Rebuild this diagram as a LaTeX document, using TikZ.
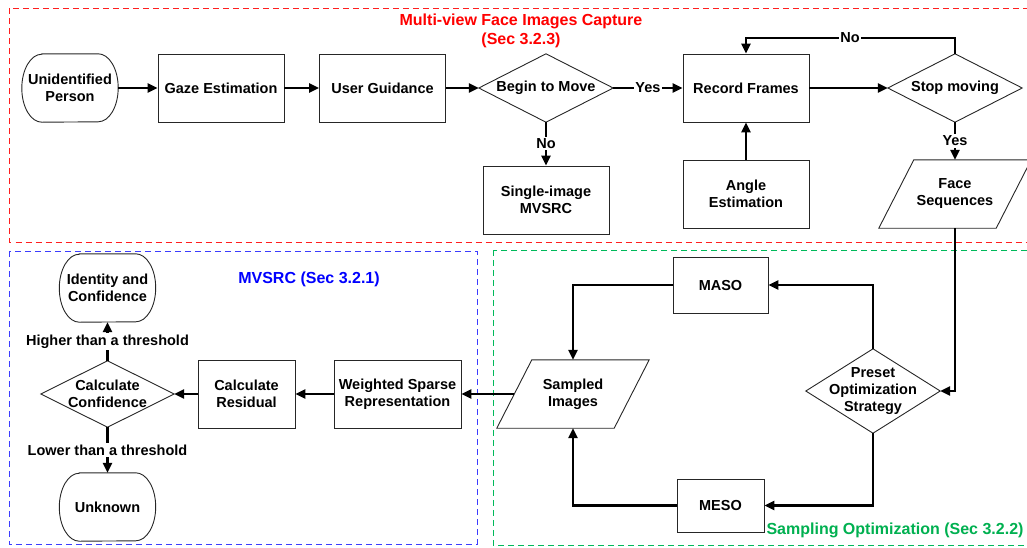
\documentclass[tikz,border=0pt]{standalone}
\usepackage{fontspec}
\setmainfont{Liberation Sans}
\usetikzlibrary{arrows.meta}
\definecolor{framered}{RGB}{255,30,30}
\definecolor{frameblue}{RGB}{60,60,255}
\definecolor{framegreen}{RGB}{0,185,90}
\definecolor{titlered}{RGB}{255,0,0}
\definecolor{titleblue}{RGB}{0,0,255}
\definecolor{titlegreen}{RGB}{0,176,80}
\newcommand{\drawterm}[1]{\draw[shapeline] ([xshift=20pt]#1.north west) -- ([xshift=-20pt]#1.north east) arc[start angle=90,end angle=-90,x radius=20pt,y radius=34pt] -- ([xshift=20pt]#1.south west) arc[start angle=270,end angle=90,x radius=20pt,y radius=34pt] -- cycle;}
\newcommand{\drawdia}[1]{\draw[shapeline] (#1.north) -- (#1.east) -- (#1.south) -- (#1.west) -- cycle;}
\newcommand{\drawpara}[1]{\draw[shapeline] ([xshift=-17.5pt]#1.south west) -- ([xshift=17.5pt]#1.north west) -- ([xshift=17.5pt]#1.north east) -- ([xshift=-17.5pt]#1.south east) -- cycle;}
\begin{document}
\begin{tikzpicture}[x=1pt,y=1pt,
  base/.style={font=\fontsize{14.5}{17}\selectfont\bfseries, align=center, inner sep=0pt, text=black},
  shapeline/.style={draw=black!85, line width=0.9pt},
  box/.style={base, shapeline, minimum width=126pt, minimum height=68pt},
  term/.style={base, minimum width=96pt, minimum height=68pt},
  dia/.style={base, minimum width=134pt, minimum height=68pt},
  para/.style={base, minimum width=117pt, minimum height=68pt},
  conn/.style={line width=2.5pt, -{Triangle[length=10pt,width=9pt]}},
  lbl/.style={base, fill=white, inner sep=1.5pt},
  title/.style={font=\fontsize{16}{19}\selectfont\bfseries, align=center},
  frame/.style={dash pattern=on 6pt off 4pt, line width=1pt}
]
\useasboundingbox (0,0) rectangle (1027,-547);
% frames
\draw[frame, draw=framered] (9.5,-8) rectangle (1040,-242);
\draw[frame, draw=frameblue] (9,-251) rectangle (477,-544);
\draw[frame, draw=framegreen] (493,-250) rectangle (1040,-545);
% titles
\node[title, text=titlered] (t1) at (521,-30.5) {Multi-view Face Images Capture\\(Sec 3.2.3)};
\node[title, text=titleblue] (t2) at (309,-279) {MVSRC (Sec 3.2.1)};
\node[title, text=titlegreen, anchor=east] (t3) at (1027,-530) {Sampling Optimization (Sec 3.2.2)};
% top row
\node[term] (up) at (70,-88) {Unidentified\\Person}; \drawterm{up}
\node[box] (gaze) at (221,-88) {Gaze Estimation};
\node[box] (ug) at (382.5,-88) {User Guidance};
\node[dia] (btm) at (546,-88) {Begin to Move}; \drawdia{btm}
\node[box] (rec) at (746,-88) {Record Frames};
\node[dia] (stop) at (955,-88) {Stop moving}; \drawdia{stop}
\node[box] (single) at (546,-200) {Single-image\\MVSRC};
\node[box] (angle) at (746,-194) {Angle\\Estimation};
\node[para] (fs) at (955,-194) {Face\\Sequences}; \drawpara{fs}
% bottom left
\node[term] (idc) at (107.5,-288) {Identity and\\Confidence}; \drawterm{idc}
\node[dia, minimum width=133pt, minimum height=66pt] (cc) at (107.5,-394) {Calculate\\Confidence}; \drawdia{cc}
\node[term] (unk) at (107.5,-507) {Unknown}; \drawterm{unk}
\node[box, minimum width=97pt] (cr) at (246.5,-394) {Calculate\\Residual};
\node[box, minimum width=127pt] (wsr) at (397.5,-394) {Weighted Sparse\\Representation};
% bottom right
\node[para] (si) at (573,-394) {Sampled\\Images}; \drawpara{si}
\node[box, minimum width=95pt, minimum height=56pt] (maso) at (720.5,-285) {MASO};
\node[box, minimum width=87pt, minimum height=53pt] (meso) at (720.5,-505.5) {MESO};
\node[dia, minimum height=84pt] (preset) at (873,-391) {Preset\\Optimization\\Strategy}; \drawdia{preset}
% connectors top
\draw[conn] (up.east) -- (gaze.west);
\draw[conn] (gaze.east) -- (ug.west);
\draw[conn] (ug.east) -- (btm.west);
\draw[conn] (btm.east) -- node[lbl] (yes1) {Yes} (rec.west);
\draw[conn] (rec.east) -- (stop.west);
\draw[conn] (btm.south) -- node[lbl] (no1) {No} (single.north);
\draw[conn] (angle.north) -- (rec.south);
\draw[conn] (stop.south) -- node[lbl] (yes2) {Yes} (fs.north);
\coordinate (loopc) at (850,-38);
\draw[conn] (stop.north) |- (loopc) -| (rec.north);
\node[lbl] (no2) at (loopc) {No};
% connectors bottom
\draw[conn] (fs.south) |- (preset.east);
\draw[conn] (preset.north) |- (maso.east);
\draw[conn] (maso.west) -| (si.north);
\draw[conn] (preset.south) |- (meso.east);
\draw[conn] (meso.west) -| (si.south);
\draw[conn] (si.west) -- (wsr.east);
\draw[conn] (wsr.west) -- (cr.east);
\draw[conn] (cr.west) -- (cc.east);
\draw[conn] (cc.north) -- node[lbl] (hi) {Higher than a threshold} (idc.south);
\draw[conn] (cc.south) -- node[lbl] (lo) {Lower than a threshold} (unk.north);
\end{tikzpicture}
\end{document}
